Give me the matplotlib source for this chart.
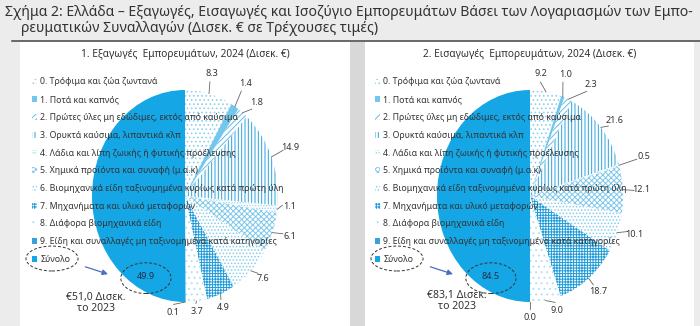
import matplotlib
matplotlib.use("Agg")
import matplotlib.pyplot as plt
from matplotlib.patches import Rectangle, Ellipse
import numpy as np

plt.rcParams["font.family"] = ["Noto Sans", "DejaVu Sans"]
plt.rcParams["hatch.linewidth"] = 0.7

# ---- data -----------------------------------------------------------------
categories = [
    "0. Τρόφιμα και ζώα ζωντανά",
    "1. Ποτά και καπνός",
    "2. Πρώτες ύλες μη εδώδιμες, εκτός από καύσιμα",
    "3. Ορυκτά καύσιμα, λιπαντικά κλπ",
    "4. Λάδια και λίπη ζωικής ή φυτικής προέλευσης",
    "5. Χημικά προϊόντα και συναφή (μ.α.κ)",
    "6. Βιομηχανικά είδη ταξινομημένα κυρίως κατά πρώτη ύλη",
    "7. Μηχανήματα και υλικό μεταφορών",
    "8. Διάφορα βιομηχανικά είδη",
    "9. Είδη και συναλλαγές μη ταξινομημένα κατά κατηγορίες",
]
total_label = "Σύνολο"

exports_2024 = [8.3, 1.4, 1.8, 14.9, 1.1, 6.1, 7.6, 4.9, 3.7, 0.1]
imports_2024 = [9.2, 1.0, 2.3, 21.6, 0.5, 12.1, 10.1, 18.7, 9.0, 0.0]
exports_total = 49.9
imports_total = 84.5
exports_2023_note = "€51,0 Δισεκ.\nτο 2023"
imports_2023_note = "€83,1 Δισεκ.\nτο 2023"

fig_title = ("Σχήμα 2: Ελλάδα – Εξαγωγές, Εισαγωγές και Ισοζύγιο Εμπορευμάτων "
             "Βάσει των Λογαριασμών των Εμπο-")
fig_title2 = "ρευματικών Συναλλαγών (Δισεκ. € σε Τρέχουσες τιμές)"
panel_titles = ["1. Εξαγωγές  Εμπορευμάτων, 2024 (Δισεκ. €)",
                "2. Εισαγωγές  Εμπορευμάτων, 2024 (Δισεκ. €)"]

# ---- styling --------------------------------------------------------------
TOTAL_BLUE = "#14a6e5"
TEXT = "#333333"
# (face colour, hatch, hatch colour) per category
cat_style = [
    ("white", "....", "#8fd0ee"),
    ("#74c7ec", None, "#74c7ec"),
    ("white", "//////", "#62bde8"),
    ("white", "|||||", "#2ba1dc"),
    ("white", "......", "#9fd7f1"),
    ("white", "xxxxxx", "#7cc7ea"),
    ("white", ".....", "#86cbec"),
    ("white", "++++++", "#1f9bd8"),
    ("white", "...", "#b4e0f4"),
    ("#3aa0dc", None, "#3aa0dc"),
]

W, H = 700, 326
fig = plt.figure(figsize=(W / 100, H / 100), dpi=100)
fig.patch.set_facecolor("#ececec")


def fx(x):
    return x / W


def fy(y):
    return 1 - y / H


# panel backgrounds and the rule under the heading
for x0, w, col in [(20, 330, "white"), (350, 15, "#d8d8d8"), (365, 329, "white")]:
    fig.patches.append(Rectangle((fx(x0), 0), fx(w), fy(42), transform=fig.transFigure,
                                 facecolor=col, edgecolor="none", zorder=-5))
fig.add_artist(plt.Line2D([fx(12), 1], [fy(41), fy(41)], transform=fig.transFigure,
                          color="#444444", lw=1.1))

fig.text(fx(5), fy(13), fig_title, fontsize=10.1, color=TEXT, va="center", ha="left")
fig.text(fx(21), fy(29), fig_title2, fontsize=10.1, color=TEXT, va="center", ha="left")

RX, RY = 93.0, 106.0  # pixels per data unit (x, y)

panels = [
    dict(left=20, right=350, cx=185, values=exports_2024, total=exports_total,
         note=exports_2023_note, note_xy=(-0.96, -1.01), title=panel_titles[0],
         legend_x=32,
         label_adj=[(1.19, 1), (1.24, 1), (1.17, -3), (1.22, 0.6), (1.13, 2.4),
                    (1.19, 1.5), (1.15, 2), (1.13, -1), (1.10, -0.4), (1.11, -7)]),
    dict(left=365, right=694, cx=530, values=imports_2024, total=imports_total,
         note=imports_2023_note, note_xy=(-0.79, -0.99), title=panel_titles[1],
         legend_x=375,
         label_adj=[(1.16, 3.8), (1.21, 2.4), (1.24, -7.5), (1.15, -2.3), (1.28, 0),
                    (1.20, -0.7), (1.18, 2.5), (1.16, 0), (1.12, 5.5), (1.15, 0)]),
]

CY = 196
for p in panels:
    ax = fig.add_axes([fx(p["left"]), fy(H), fx(p["right"] - p["left"]), fy(42)])
    ax.patch.set_alpha(0)
    vals = list(p["values"]) + [p["total"]]
    wedges, _ = ax.pie(vals, startangle=90, counterclock=False, radius=1,
                       wedgeprops=dict(linewidth=0))
    for w, (fc, hatch, hc) in zip(wedges[:-1], cat_style):
        w.set_facecolor(fc)
        w.set_edgecolor(hc)
        w.set_hatch(hatch)
        w.set_linewidth(0)
    wedges[-1].set_facecolor(TOTAL_BLUE)
    wedges[-1].set_edgecolor(TOTAL_BLUE)
    wedges[-1].set_linewidth(0)

    ax.set_aspect("auto")
    ax.set_xlim((p["left"] - p["cx"]) / RX, (p["right"] - p["cx"]) / RX)
    ax.set_ylim(-(H - CY) / RY, (CY - 42) / RY)
    ax.axis("off")

    # value labels with leader lines
    for w, v, (r, dth) in zip(wedges[:-1], p["values"], p["label_adj"]):
        mid = np.deg2rad((w.theta1 + w.theta2) / 2)
        ang = mid + np.deg2rad(dth)
        tx, ty = r * np.cos(ang), r * np.sin(ang)
        ex, ey = np.cos(mid), np.sin(mid)
        lx, ly = (r - 0.08) * np.cos(ang), (r - 0.08) * np.sin(ang)
        ax.plot([ex, lx], [ey, ly], color="#666666", lw=0.6, zorder=4)
        ax.text(tx, ty, f"{v:.1f}", fontsize=6.5, color=TEXT, ha="center", va="center",
                zorder=5)

    # total value
    ax.text(-0.42, -0.76, f"{p['total']:.1f}", fontsize=6.5, color="#1d2f4a",
            ha="center", va="center", zorder=5)
    ax.add_patch(Ellipse((-0.42, -0.775), 0.54, 0.29, fill=False, ls=(0, (3, 2)),
                         lw=0.7, edgecolor="#333333", zorder=6))
    ax.add_patch(Ellipse((-1.43, -0.59), 0.56, 0.235, fill=False, ls=(0, (3, 2)),
                         lw=0.7, edgecolor="#333333", zorder=6, clip_on=False))
    ax.annotate("", xy=(-0.80, -0.745), xytext=(-1.10, -0.66),
                arrowprops=dict(arrowstyle="-|>", color="#4a6fc0", lw=0.9,
                                mutation_scale=8), zorder=6)
    ax.text(p["note_xy"][0], p["note_xy"][1], p["note"], fontsize=7.5, color=TEXT,
            ha="center", va="center", linespacing=1.0, zorder=5)

    fig.text(fx(p["cx"]), fy(55), p["title"], fontsize=7.3, color=TEXT,
             ha="center", va="center")

    leg = ax.legend(wedges, categories + [total_label], loc="upper left",
                    bbox_to_anchor=(fx(p["legend_x"]), fy(77.5)),
                    bbox_transform=fig.transFigure, frameon=False, fontsize=6.3,
                    handlelength=0.62, handleheight=0.62, handletextpad=0.35,
                    labelspacing=1.0, borderpad=0, borderaxespad=0)
    for t in leg.get_texts():
        t.set_color(TEXT)
    leg.set_zorder(7)

fig.savefig("out.png", dpi=100, facecolor=fig.get_facecolor())
